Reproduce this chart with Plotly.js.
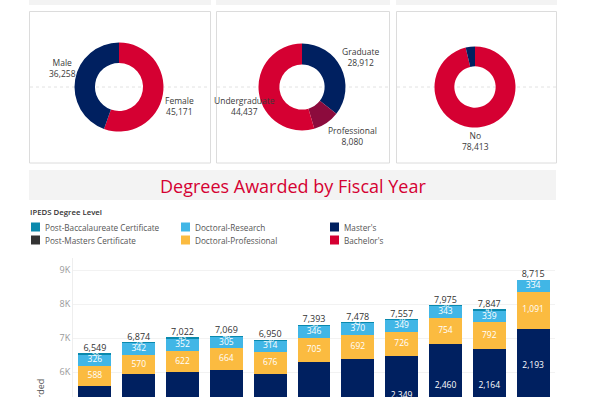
<!DOCTYPE html>
<html>
<head>
<meta charset="utf-8">
<script src="https://cdn.plot.ly/plotly-3.0.1.min.js"></script>
<style>html,body{margin:0;padding:0;background:#fff;}#chart{width:600px;height:397px;}</style>
</head>
<body>
<div id="chart"></div>
<script>
// ---------- DATA ----------
const genderLabels = ['Female', 'Male'];
const genderValues = [45171, 36258];

const levelLabels = ['Graduate', 'Professional', 'Undergraduate'];
const levelValues = [28912, 8080, 44437];

const firstGenLabels = ['No', 'Yes'];
const firstGenValues = [78413, 3016];

const fiscalYears = ['FY2013', 'FY2014', 'FY2015', 'FY2016', 'FY2017', 'FY2018', 'FY2019', 'FY2020', 'FY2021', 'FY2022', 'FY2023'];
const bachelors = [3543, 3780, 3800, 3798, 3747, 3968, 3935, 4110, 4376, 4506, 5075];
const masters = [2050, 2150, 2200, 2250, 2180, 2330, 2450, 2349, 2460, 2164, 2193];
const doctoralProfessional = [588, 570, 622, 664, 676, 705, 692, 726, 754, 792, 1091];
const doctoralResearch = [326, 342, 352, 305, 314, 346, 370, 349, 343, 339, 334];
const postBacc = [38, 29, 43, 48, 30, 38, 27, 18, 36, 41, 19];
const postMasters = [4, 3, 5, 4, 3, 6, 4, 5, 6, 5, 3];
const totals = [6549, 6874, 7022, 7069, 6950, 7393, 7478, 7557, 7975, 7847, 8715];

const yTickVals = [6000, 7000, 8000, 9000];
const yTickText = ['6K', '7K', '8K', '9K'];

const chartTitle = 'Degrees Awarded by Fiscal Year';
const legendTitle = 'IPEDS Degree Level';
const yAxisTitle = 'Degrees Awarded';

// ---------- STYLE ----------
const W = 600, H = 397;
const FONT = 'Open Sans, Noto Sans, sans-serif';
const C = {
  crimson: '#d50032', navy: '#002060', maroon: '#8c0b3d',
  gold: '#fbbb40', lightBlue: '#41b6e6', teal: '#0a89ad', dark: '#333333'
};
const px = v => v / W;
const py = v => 1 - v / H;
const fmt = v => v.toLocaleString('en-US');

function dom(cx, cy, r) {
  return { x: [px(cx - r), px(cx + r)], y: [py(cy + r), py(cy - r)] };
}

const traces = [];
function pie(labels, values, colors, d, hole) {
  traces.push({
    type: 'pie', labels: labels, values: values, sort: false, direction: 'clockwise',
    rotation: 0, hole: hole, domain: d, textinfo: 'none', hoverinfo: 'none',
    marker: { colors: colors, line: { width: 0 } }, showlegend: false
  });
}
pie(genderLabels, genderValues, [C.crimson, C.navy], dom(119, 87, 44.5), 0.54);
pie(levelLabels, levelValues, [C.navy, C.maroon, C.crimson], dom(302, 87, 43.5), 0.52);
pie(firstGenLabels, firstGenValues, [C.crimson, C.navy], dom(475, 87, 40.5), 0.51);

// stacked bars, bottom to top
const series = [
  { name: "Bachelor's", vals: bachelors, color: C.crimson, label: true, lsize: 8.5, clip: true },
  { name: "Master's", vals: masters, color: C.navy, label: true, lsize: 8.5, clip: false },
  { name: 'Doctoral-Professional', vals: doctoralProfessional, color: C.gold, label: true, lsize: 8.5, clip: true },
  { name: 'Doctoral-Research', vals: doctoralResearch, color: C.lightBlue, label: true, lsize: 8.5, clip: true },
  { name: 'Post-Baccalaureate Certificate', vals: postBacc, color: C.teal, label: true, lsize: 6.5, clip: true },
  { name: 'Post-Masters Certificate', vals: postMasters, color: C.dark, label: false, lsize: 6, clip: true }
];
const base = fiscalYears.map(() => 0);
series.forEach(s => {
  traces.push({
    type: 'bar', x: fiscalYears, y: s.vals, name: s.name, marker: { color: s.color },
    hoverinfo: 'none', showlegend: false
  });
  if (s.label) {
    traces.push({
      type: 'scatter', mode: 'text', x: fiscalYears,
      y: s.vals.map((v, i) => base[i] + v / 2),
      text: s.vals.map(fmt), textposition: 'middle center',
      textfont: { color: '#ffffff', size: s.lsize, family: FONT },
      hoverinfo: 'none', showlegend: false, cliponaxis: s.clip
    });
  }
  s.vals.forEach((v, i) => { base[i] += v; });
});
traces.push({
  type: 'scatter', mode: 'text', x: fiscalYears, y: totals,
  text: totals.map(fmt), textposition: 'top center',
  textfont: { color: '#333333', size: 9, family: FONT },
  hoverinfo: 'none', showlegend: false, cliponaxis: false
});

// ---------- SHAPES ----------
const shapes = [];
const rect = (x0, y0, x1, y1, fill, line) => shapes.push({
  type: 'rect', xref: 'paper', yref: 'paper', x0: px(x0), x1: px(x1), y0: py(y1), y1: py(y0),
  fillcolor: fill, line: line || { width: 0 }, layer: 'below'
});
const panels = [[29, 211], [216, 390], [396, 557]];
panels.forEach(p => {
  rect(p[0], 0, p[1], 5, '#f3f3f3');
  rect(p[0] + 0.5, 11.5, p[1] - 0.5, 163, '#ffffff', { color: '#dcdcdc', width: 1 });
  shapes.push({ type: 'line', xref: 'paper', yref: 'paper', x0: px(p[0] + 1), x1: px(p[1] - 1),
    y0: py(87), y1: py(87), line: { color: '#e2e2e2', width: 1, dash: 'dot' }, layer: 'below' });
});
rect(29, 170, 556, 200, '#f3f3f3');

// legend (custom, 3 columns x 2 rows)
const legendOrder = [
  ['Post-Baccalaureate Certificate', C.teal, 31, 227],
  ['Post-Masters Certificate', C.dark, 31, 240],
  ['Doctoral-Research', C.lightBlue, 181, 227],
  ['Doctoral-Professional', C.gold, 181, 240],
  ["Master's", C.navy, 330, 227],
  ["Bachelor's", C.crimson, 330, 240]
];
const annotations = [];
legendOrder.forEach(l => {
  rect(l[2], l[3] - 4.5, l[2] + 9, l[3] + 4.5, l[1]);
  annotations.push({ xref: 'paper', yref: 'paper', x: px(l[2] + 12), y: py(l[3]), xanchor: 'left', yanchor: 'middle',
    text: l[0], showarrow: false, font: { family: FONT, size: 8.2, color: '#555555' } });
});
annotations.push({ xref: 'paper', yref: 'paper', x: px(28), y: py(212), xanchor: 'left', yanchor: 'middle',
  text: legendTitle, showarrow: false, font: { family: FONT, size: 7.8, color: '#333333', weight: 600 } });

annotations.push({ xref: 'paper', yref: 'paper', x: px(293), y: py(186), xanchor: 'center', yanchor: 'middle',
  text: chartTitle, showarrow: false, font: { family: FONT, size: 18, color: C.crimson } });

// donut labels
const donutLabels = [
  [genderLabels[1], genderValues[1], 62, 67.5],
  [genderLabels[0], genderValues[0], 179, 105.5],
  [levelLabels[0], levelValues[0], 361, 56.5],
  [levelLabels[2], levelValues[2], 244, 105.5],
  [levelLabels[1], levelValues[1], 352, 135.5],
  [firstGenLabels[0], firstGenValues[0], 475, 141.5]
];
donutLabels.forEach(d => {
  annotations.push({ xref: 'paper', yref: 'paper', x: px(d[2]), y: py(d[3]), xanchor: 'center', yanchor: 'middle',
    text: d[0] + '<br>' + fmt(d[1]), showarrow: false, font: { family: FONT, size: 8.5, color: '#3a3a3a' } });
});

annotations.push({ xref: 'paper', yref: 'paper', x: px(40), y: py(377), xanchor: 'center', yanchor: 'top',
  text: yAxisTitle, textangle: -90, showarrow: false, font: { family: FONT, size: 9, color: '#555555' } });

const layout = {
  width: W, height: H, margin: { l: 0, r: 0, t: 0, b: 0 },
  paper_bgcolor: '#ffffff', plot_bgcolor: '#ffffff',
  font: { family: FONT }, showlegend: false, barmode: 'stack', bargap: 0.25,
  xaxis: { domain: [px(73), px(555)], type: 'category', range: [-0.5, fiscalYears.length - 0.5],
    showticklabels: false, showgrid: false, zeroline: false, showline: false, fixedrange: true },
  yaxis: { domain: [0, py(258)], range: [5265, 9353], tickvals: yTickVals, ticktext: yTickText,
    tickfont: { size: 9, color: '#999999', family: FONT }, gridcolor: '#f2f2f2', zeroline: false,
    showline: true, linecolor: '#eeeeee', ticks: '', fixedrange: true },
  shapes: shapes, annotations: annotations, hovermode: false
};

Plotly.newPlot('chart', traces, layout, { staticPlot: true, displayModeBar: false });
</script>
</body>
</html>
